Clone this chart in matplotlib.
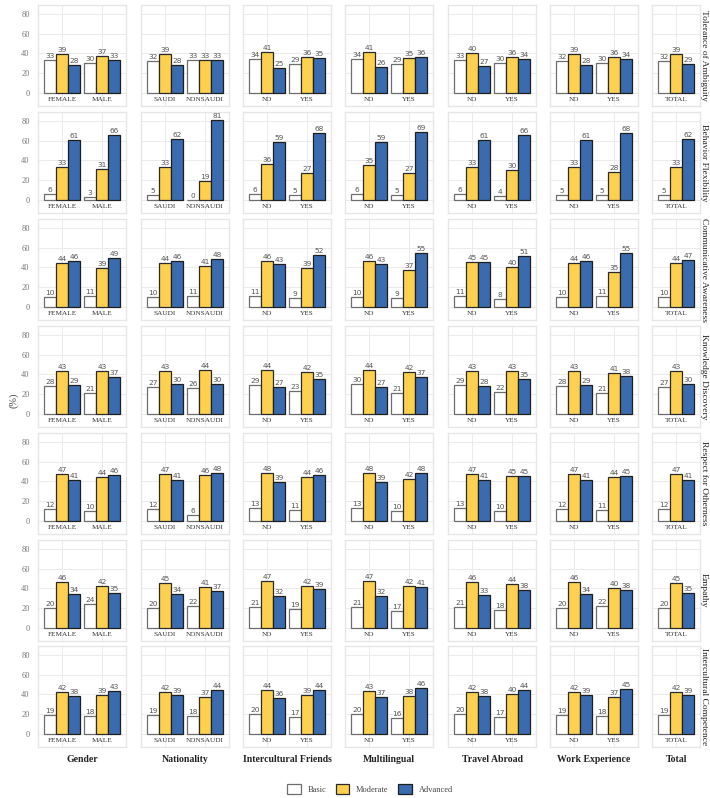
import matplotlib
matplotlib.use("Agg")
import matplotlib.pyplot as plt
from matplotlib.patches import Patch

# ---------------------------------------------------------
# Data (percent of respondents per level)
# ---------------------------------------------------------
dimensions = ["Tolerance of Ambiguity", "Behavior Flexibility", "Communicative Awareness",
              "Knowledge Discovery", "Respect for Otherness", "Empathy",
              "Intercultural Competence"]
groups = ["Gender", "Nationality", "Intercultural Friends", "Multilingual",
          "Travel Abroad", "Work Experience", "Total"]
categories = {
    "Gender": ["FEMALE", "MALE"],
    "Nationality": ["SAUDI", "NONSAUDI"],
    "Intercultural Friends": ["NO", "YES"],
    "Multilingual": ["NO", "YES"],
    "Travel Abroad": ["NO", "YES"],
    "Work Experience": ["NO", "YES"],
    "Total": ["TOTAL"],
}
levels = ["Basic", "Moderate", "Advanced"]

# one list per dimension; for each group, one [basic, moderate, advanced] per category
tolerance = [[[33, 39, 28], [30, 37, 33]], [[32, 39, 28], [33, 33, 33]],
             [[34, 41, 25], [29, 36, 35]], [[34, 41, 26], [29, 35, 36]],
             [[33, 40, 27], [30, 36, 34]], [[32, 39, 28], [30, 36, 34]],
             [[32, 39, 29]]]
flexibility = [[[6, 33, 61], [3, 31, 66]], [[5, 33, 62], [0, 19, 81]],
               [[6, 36, 59], [5, 27, 68]], [[6, 35, 59], [5, 27, 69]],
               [[6, 33, 61], [4, 30, 66]], [[5, 33, 61], [5, 28, 68]],
               [[5, 33, 62]]]
awareness = [[[10, 44, 46], [11, 39, 49]], [[10, 44, 46], [11, 41, 48]],
             [[11, 46, 43], [9, 39, 52]], [[10, 46, 43], [9, 37, 55]],
             [[11, 45, 45], [8, 40, 51]], [[10, 44, 46], [11, 35, 55]],
             [[10, 44, 47]]]
discovery = [[[28, 43, 29], [21, 43, 37]], [[27, 43, 30], [26, 44, 30]],
             [[29, 44, 27], [23, 42, 35]], [[30, 44, 27], [21, 42, 37]],
             [[29, 43, 28], [22, 43, 35]], [[28, 43, 29], [21, 41, 38]],
             [[27, 43, 30]]]
respect = [[[12, 47, 41], [10, 44, 46]], [[12, 47, 41], [6, 46, 48]],
           [[13, 48, 39], [11, 44, 46]], [[13, 48, 39], [10, 42, 48]],
           [[13, 47, 41], [10, 45, 45]], [[12, 47, 41], [11, 44, 45]],
           [[12, 47, 41]]]
empathy = [[[20, 46, 34], [24, 42, 35]], [[20, 45, 34], [22, 41, 37]],
           [[21, 47, 32], [19, 42, 39]], [[21, 47, 32], [17, 42, 41]],
           [[21, 46, 33], [18, 44, 38]], [[20, 46, 34], [22, 40, 38]],
           [[20, 45, 35]]]
competence = [[[19, 42, 38], [18, 39, 43]], [[19, 42, 39], [18, 37, 44]],
              [[20, 44, 36], [17, 39, 44]], [[20, 43, 37], [16, 38, 46]],
              [[20, 42, 38], [17, 40, 44]], [[19, 42, 39], [18, 37, 45]],
              [[19, 42, 39]]]
values = [tolerance, flexibility, awareness, discovery, respect, empathy, competence]

fills = ["#FFFFFF", "#FDD14F", "#3A6BAE"]
edges = ["#6E6E6E", "#2A2A2A", "#1E1E1E"]
SERIF = ["Liberation Serif", "DejaVu Serif"]

W, H = 710, 798
fig = plt.figure(figsize=(W / 100, H / 100), dpi=100)

col_left = [38, 141, 243, 345, 448, 550, 652]
row_top = [5, 112, 219, 326, 433, 540, 646]
panel_h = 101
px_per_cat = 40
bar_w = 0.3

for r, dim in enumerate(dimensions):
    for c, grp in enumerate(groups):
        cats = categories[grp]
        n = len(cats)
        pw = px_per_cat * (n + 0.2)
        ax = fig.add_axes([col_left[c] / W, 1 - (row_top[r] + panel_h) / H, pw / W, panel_h / H])
        ax.set_xlim(0.4, n + 0.6)
        ax.set_ylim(-13.5, 89)
        for y in [0, 20, 40, 60, 80]:
            ax.axhline(y, color="#EBEBEB", lw=0.7, zorder=0)
        for i in range(n):
            ax.axvline(i + 1, color="#EBEBEB", lw=0.7, zorder=0)
        for i, cat in enumerate(cats):
            for k in range(3):
                v = values[r][c][i][k]
                x = i + 1 + (k - 1) * bar_w
                ax.bar(x, v, width=bar_w, color=fills[k], edgecolor=edges[k],
                       linewidth=0.9, zorder=2)
                ax.text(x, v + 1, str(v), ha="center", va="bottom", fontsize=5.3,
                        color="#555555", zorder=3)
            ax.text(i + 1, -7, cat, ha="center", va="center", fontsize=5.2,
                    family=SERIF, color="#333333")
        ax.set_xticks([])
        for s in ax.spines.values():
            s.set_color("#E6E6E6")
            s.set_linewidth(1.0)
        if c == 0:
            ax.set_yticks([0, 20, 40, 60, 80])
            ax.tick_params(axis="y", length=0, labelsize=6, labelcolor="#777777", pad=6)
            for lbl in ax.get_yticklabels():
                lbl.set_family(SERIF)
        else:
            ax.set_yticks([])
        if c == len(groups) - 1:
            fig.text(704 / W, 1 - (row_top[r] + panel_h / 2) / H, dim, rotation=270,
                     ha="center", va="center", fontsize=6.8, family=SERIF, color="#222222")
        if r == len(dimensions) - 1:
            fig.text((col_left[c] + pw / 2) / W, 1 - 760 / H, grp, ha="center", va="center",
                     fontsize=7, family=SERIF, weight="bold", color="#222222")

fig.text(14 / W, 1 - 400 / H, "(%)", rotation=90, ha="center", va="center",
         fontsize=7.5, family=SERIF, color="#444444")

handles = [Patch(facecolor=fills[k], edgecolor=edges[k], linewidth=0.9, label=levels[k])
           for k in range(3)]
leg = fig.legend(handles=handles, loc="center", bbox_to_anchor=(370 / W, 1 - 789 / H),
                 ncol=3, frameon=False, handlelength=1.6, handleheight=1.6,
                 columnspacing=1.2, handletextpad=0.8,
                 prop={"family": SERIF, "size": 6})
for t in leg.get_texts():
    t.set_color("#444444")

fig.savefig("out.png", dpi=100, facecolor="white")
